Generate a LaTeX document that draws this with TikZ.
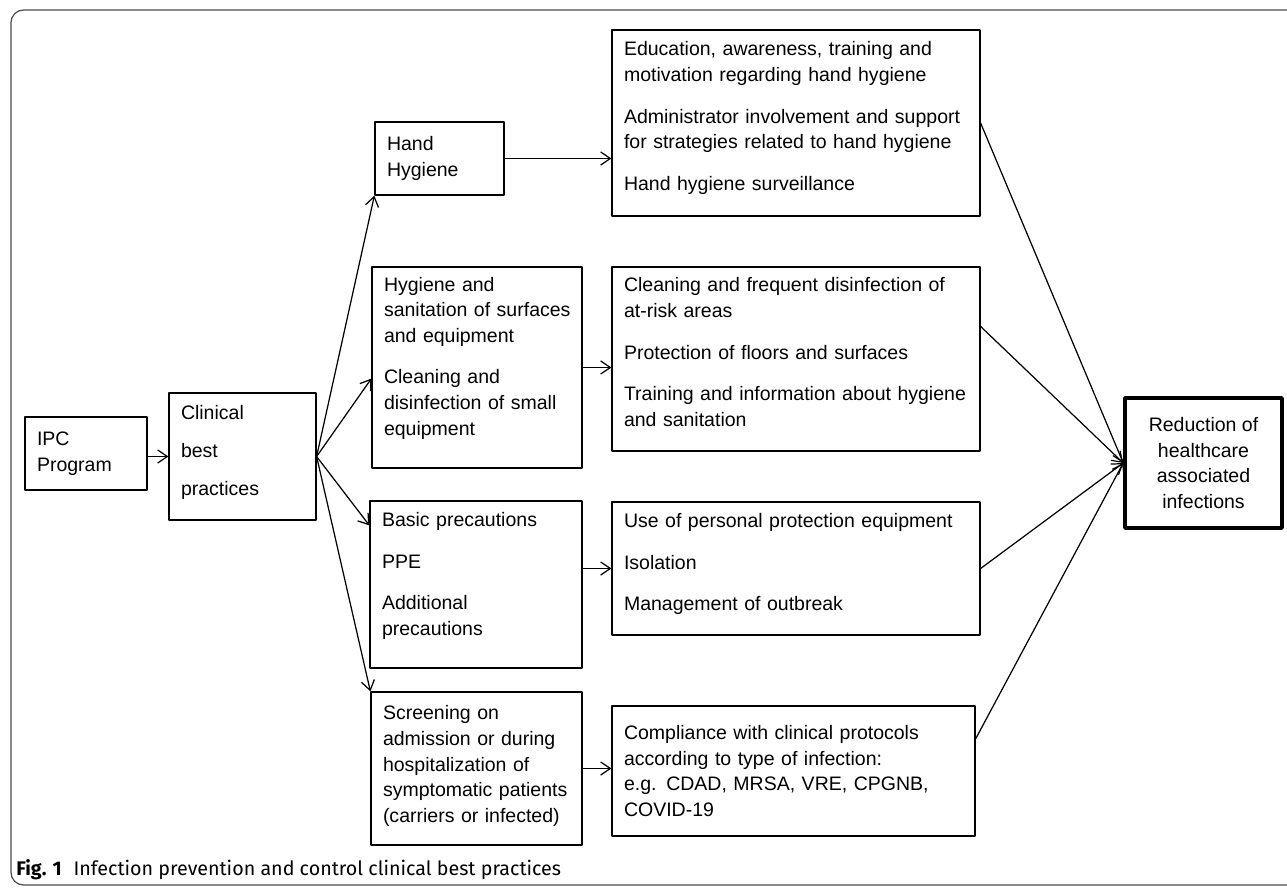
\documentclass[tikz,border=0pt]{standalone}
\usepackage{fontspec}
\setmainfont{Liberation Sans}
\newfontfamily\capfont{Fira Sans}
\usetikzlibrary{arrows.meta}
% extra depth under the last line, lifts the text in its box
\newcommand{\lowpad}[1]{\rule[-#1]{0pt}{#1}}
\begin{document}
\begin{tikzpicture}[line join=round, >={Straight Barb[length=5.5pt,width=7.5pt]},
  font=\fontsize{11.1}{14.6}\selectfont,
  box/.style 2 args={draw, line width=0.7pt, align=left, inner xsep=0.24cm, inner ysep=0pt, text width=#1, minimum height=#2},
  arr/.style={->, line width=0.7pt}]
\useasboundingbox (0,0) rectangle (25.74,17.74);
% frame and caption
\draw[line width=0.7pt, black!70, rounded corners=0.25cm] (0.22,0.04) rectangle (27,17.54);
\node[anchor=base west, inner sep=0pt, font=\capfont\fontsize{11.2}{13}\selectfont] (cap) at (0.32,0.24)
  {\textbf{Fig. 1}\hspace{0.6em}Infection prevention and control clinical best practices};
% left part
\node[box={1.96cm}{1.46cm}] (ipc) at (1.72,8.67) {IPC\\Program};
\node[box={2.46cm}{2.54cm}] (clin) at (4.85,8.61) {Clinical\\[7pt]best\\[7pt]practices\lowpad{7pt}};
% second column
\node[box={2.10cm}{1.46cm}] (hh) at (8.79,14.57) {Hand\\Hygiene};
\node[box={3.72cm}{4.02cm}] (hs) at (9.54,10.39)
  {Hygiene and\\\mbox{sanitation of surfaces}\\and equipment\\[9pt]Cleaning and\\\mbox{disinfection of small}\\equipment\lowpad{13pt}};
\node[box={3.76cm}{3.34cm}] (bp) at (9.52,6.05)
  {Basic precautions\\[9pt]PPE\\[9pt]Additional\\precautions\lowpad{12pt}};
\node[box={3.74cm}{3.06cm}] (sc) at (9.53,2.37)
  {Screening on\\admission or during\\hospitalization of\\\mbox{symptomatic patients}\\\mbox{(carriers or infected)}\lowpad{5pt}};
% third column
\node[box={6.88cm}{3.72cm}] (ed) at (15.92,15.28)
  {Education, awareness, training and\\motivation regarding hand hygiene\\[9pt]\mbox{Administrator involvement and support}\\\mbox{for strategies related to hand hygiene}\\[9pt]Hand hygiene surveillance\lowpad{8pt}};
\node[box={6.88cm}{3.68cm}] (cl) at (15.92,10.56)
  {Cleaning and frequent disinfection of\\at-risk areas\\[9pt]Protection of floors and surfaces\\[9pt]\mbox{Training and information about hygiene}\\and sanitation\lowpad{8pt}};
\node[box={6.88cm}{2.66cm}] (pe) at (15.92,6.37)
  {Use of personal protection equipment\\[9pt]Isolation\\[9pt]Management of outbreak\lowpad{7pt}};
\node[box={6.78cm}{2.60cm}] (cp) at (15.87,2.32)
  {Compliance with clinical protocols\\according to type of infection:\\e.g. CDAD, MRSA, VRE, CPGNB,\\COVID-19};
% result
\node[draw, line width=2pt, align=center, minimum width=3.14cm, minimum height=2.6cm] (red) at (24.07,8.48)
  {Reduction of\\healthcare\\associated\\infections};
% arrows
\draw[arr] (ipc.east |- clin.west) -- (clin.west);
\draw[arr] (clin.east) -- (hh.south west);
\draw[arr] (clin.east) -- (hs.186);
\draw[arr] (clin.east) -- (bp.151);
\draw[arr] (clin.east) -- (sc.north west);
\draw[arr] (hh.east) -- (hh.east -| ed.west);
\draw[arr] (hs.east) -- (hs.east -| cl.west);
\draw[arr] (pe.west -| bp.east) -- (pe.west);
\draw[arr] (sc.east) -- (sc.east -| cp.west);
\draw[arr] (ed.east) -- (red.west);
\draw[arr] (cl.10) -- (red.west);
\draw[arr] (pe.east) -- (red.west);
\draw[arr] (cp.10) -- (red.west);
\end{tikzpicture}
\end{document}
